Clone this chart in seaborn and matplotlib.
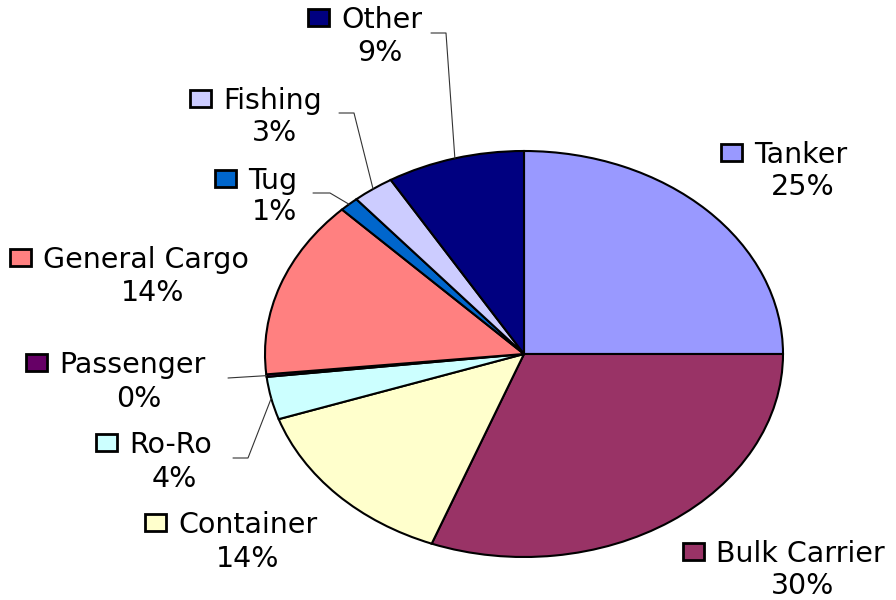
import numpy as np
import matplotlib
matplotlib.use("Agg")
import matplotlib.pyplot as plt
from matplotlib.patches import Rectangle
import seaborn as sns

# ---- data ----
categories = ["Tanker", "Bulk Carrier", "Container", "Ro-Ro", "Passenger",
              "General Cargo", "Tug", "Fishing", "Other"]
shares = [25.0, 30.8, 14.0, 3.4, 0.2, 14.2, 1.2, 2.6, 8.6]
pct_labels = ["25%", "30%", "14%", "4%", "0%", "14%", "1%", "3%", "9%"]
colors = ["#9999FF", "#993366", "#FFFFCC", "#CCFFFF", "#660066",
          "#FF8080", "#0066CC", "#CCCCFF", "#000080"]

# ---- layout (pixel positions of labels) ----
# name: (text_left_x, text_center_y, pct_center_x, pct_center_y)
label_pos = {
    "Tanker": (754, 152, 803, 184),
    "Bulk Carrier": (716, 551, 803, 583),
    "Container": (178, 522, 248, 556),
    "Ro-Ro": (129, 442, 174, 476),
    "Passenger": (59, 362, 139, 396),
    "General Cargo": (43, 257, 153, 290),
    "Tug": (248, 178, 275, 209),
    "Fishing": (223, 98, 274, 130),
    "Other": (341, 17, 380, 50),
}
# leader line elbows (pixel): list of points before the wedge edge point
leaders = {
    "Other": [(431, 33), (446, 33)],
    "Fishing": [(339, 113), (354, 113)],
    "Tug": [(313, 193), (330, 193)],
    "Passenger": [(228, 378)],
    "Ro-Ro": [(233, 458), (248, 458)],
}

W, H = 896, 600
CX, CY, RX, RY = 524, 354, 259, 203


def px2d(px, py):
    return (px - CX) / RX, (CY - py) / RY


sns.set_theme(style="white")
plt.rcParams["font.family"] = ["DejaVu Sans"]

fig = plt.figure(figsize=(W / 100, H / 100), dpi=100)
ax = fig.add_axes([0, 0, 1, 1])
wedges, _ = ax.pie(shares, colors=colors, startangle=90, counterclock=False,
                   radius=1.0, center=(0, 0),
                   wedgeprops=dict(edgecolor="black", linewidth=1.5))
ax.set_aspect("auto")
x0, _ = px2d(0, 0)
x1, _ = px2d(W, 0)
_, ytop = px2d(0, 0)
_, ybot = px2d(0, H)
ax.set_xlim(x0, x1)
ax.set_ylim(ybot, ytop)
ax.axis("off")

sq_w, sq_h = 21 / RX, 17 / RY
fs = 20.5
for name, pct, col in zip(categories, pct_labels, colors):
    tx, ty, pxx, pyy = label_pos[name]
    dx, dy = px2d(tx, ty)
    ax.text(dx, dy, name, ha="left", va="center_baseline", fontsize=fs, color="black")
    sx, sy = px2d(tx - 33, ty + 8.5)
    ax.add_patch(Rectangle((sx, sy), sq_w, sq_h, facecolor=col,
                           edgecolor="black", linewidth=2.0, zorder=5))
    qx, qy = px2d(pxx, pyy)
    ax.text(qx, qy, pct, ha="center", va="center_baseline", fontsize=fs, color="black")

# leader lines to wedge mid-angle points on the rim
cum = np.cumsum([0] + shares)
for i, name in enumerate(categories):
    if name not in leaders:
        continue
    mid = (cum[i] + cum[i + 1]) / 2 / sum(shares) * 2 * np.pi
    ex, ey = np.sin(mid), np.cos(mid)
    pts = [px2d(*p) for p in leaders[name]] + [(ex, ey)]
    xs, ys = zip(*pts)
    ax.plot(xs, ys, color="#333333", linewidth=0.8, zorder=1)

fig.savefig("out.png", dpi=100, facecolor="white")
